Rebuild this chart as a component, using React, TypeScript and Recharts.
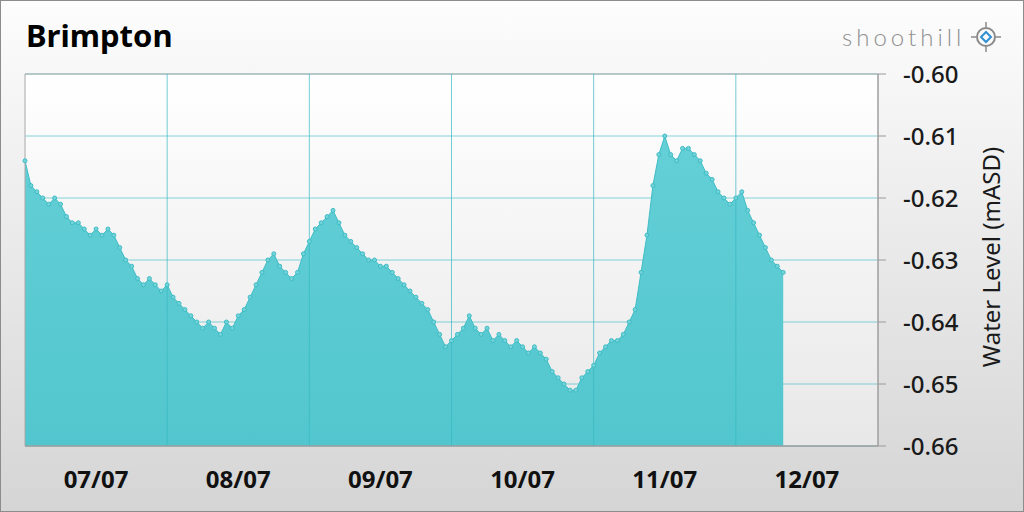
import React from 'react';
import {
  ComposedChart,
  Area,
  XAxis,
  YAxis,
  CartesianGrid,
  ReferenceArea,
  ReferenceLine,
  Label,
} from 'recharts';

// hourly water level readings from 07/07 00:00 (mASD)
const levels: number[] = [
  -0.614, -0.618, -0.619, -0.62, -0.621, -0.62, -0.621, -0.623, -0.624, -0.624,
  -0.625, -0.626, -0.625, -0.626, -0.625, -0.626, -0.628, -0.63, -0.631, -0.633,
  -0.634, -0.633, -0.634, -0.635, -0.634, -0.636, -0.637, -0.638, -0.639, -0.64,
  -0.641, -0.64, -0.641, -0.642, -0.64, -0.641, -0.639, -0.638, -0.636, -0.634,
  -0.632, -0.63, -0.629, -0.631, -0.632, -0.633, -0.632, -0.629, -0.627, -0.625,
  -0.624, -0.623, -0.622, -0.624, -0.626, -0.627, -0.628, -0.629, -0.63, -0.63,
  -0.631, -0.631, -0.632, -0.633, -0.634, -0.635, -0.636, -0.637, -0.638, -0.64,
  -0.642, -0.644, -0.643, -0.642, -0.641, -0.639, -0.641, -0.642, -0.641, -0.643,
  -0.642, -0.643, -0.644, -0.643, -0.644, -0.645, -0.644, -0.645, -0.646, -0.648,
  -0.649, -0.65, -0.651, -0.651, -0.649, -0.648, -0.647, -0.645, -0.644, -0.643,
  -0.643, -0.642, -0.64, -0.638, -0.632, -0.626, -0.618, -0.613, -0.61, -0.613,
  -0.614, -0.612, -0.612, -0.613, -0.614, -0.616, -0.617, -0.619, -0.62, -0.621,
  -0.62, -0.619, -0.622, -0.624, -0.626, -0.628, -0.63, -0.631, -0.632,
];

const dayTicks = [0, 24, 48, 72, 96, 120, 144];
const labelTicks = [12, 36, 60, 84, 108, 132];
const dayLabels = ['07/07', '08/07', '09/07', '10/07', '11/07', '12/07'];
const levelTicks = [-0.66, -0.65, -0.64, -0.63, -0.62, -0.61, -0.6];

const data = levels.map((v, i) => ({ t: i, level: v }));

const font = '"Noto Sans", "Open Sans", sans-serif';
const gridColor = '#36b8c2';

function Logo() {
  return (
    <svg width={200} height={50} style={{ position: 'absolute', left: 824, top: 12 }}>
      <text x={18} y={34} fontFamily="Lato, sans-serif" fontWeight={300} fontSize={24}
        fill="#8f8f8f" letterSpacing={4}>shoothill</text>
      <g transform="translate(162,25)">
        <circle r={9} fill="none" stroke="#8a8a8a" strokeWidth={2} />
        <line x1={0} y1={-15} x2={0} y2={-10} stroke="#8a8a8a" strokeWidth={1.5} />
        <line x1={0} y1={10} x2={0} y2={15} stroke="#8a8a8a" strokeWidth={1.5} />
        <line x1={-15} y1={0} x2={-10} y2={0} stroke="#8a8a8a" strokeWidth={1.5} />
        <line x1={10} y1={0} x2={15} y2={0} stroke="#8a8a8a" strokeWidth={1.5} />
        <path d="M0,-5 L5,0 L0,5 L-5,0 Z" fill="none" stroke="#2f8fd4" strokeWidth={2} />
      </g>
    </svg>
  );
}

export default function App() {
  return (
    <div
      style={{
        position: 'fixed',
        left: 0,
        top: 0,
        width: 1024,
        height: 512,
        background: 'linear-gradient(#fdfdfd, #d5d5d5)',
        fontFamily: font,
        overflow: 'hidden',
      }}
    >
      <div style={{ position: 'absolute', left: 26, top: 14, fontSize: 31, fontWeight: 700, color: '#000' }}>
        Brimpton
      </div>
      <Logo />
      <ComposedChart
        width={1024}
        height={512}
        data={data}
        margin={{ top: 74, right: 46, bottom: 26, left: 25 }}
        style={{ position: 'absolute', left: 0, top: 0 }}
      >
        <defs>
          <linearGradient id="plotBg" x1="0" y1="0" x2="0" y2="1">
            <stop offset="0%" stopColor="#ffffff" />
            <stop offset="100%" stopColor="#e8e8e8" />
          </linearGradient>
          <linearGradient id="areaFill" x1="0" y1="0" x2="0" y2="1">
            <stop offset="0%" stopColor="#64cfd6" />
            <stop offset="100%" stopColor="#52c6ce" />
          </linearGradient>
        </defs>
        <CartesianGrid horizontal={false} vertical={false} fill="url(#plotBg)" />
        <XAxis
          xAxisId="days"
          dataKey="t"
          type="number"
          domain={[0, 144]}
          ticks={dayTicks}
          tick={false}
          tickSize={10}
          height={10}
          axisLine={{ stroke: '#9a9a9a' }}
          tickLine={{ stroke: '#9a9a9a' }}
        />
        <XAxis
          xAxisId="labels"
          dataKey="t"
          type="number"
          domain={[0, 144]}
          ticks={labelTicks}
          tickFormatter={(v: number) => dayLabels[labelTicks.indexOf(v)]}
          tickSize={0}
          tickMargin={15}
          height={30}
          axisLine={false}
          tickLine={false}
          tick={{ fill: '#111', fontSize: 24, fontWeight: 700, fontFamily: font }}
        />
        <YAxis
          orientation="right"
          type="number"
          domain={[-0.66, -0.6]}
          ticks={levelTicks}
          tickFormatter={(v: number) => v.toFixed(2)}
          width={100}
          tickSize={8}
          tickMargin={17}
          axisLine={{ stroke: '#9a9a9a' }}
          tickLine={{ stroke: '#9a9a9a' }}
          tick={{ fill: '#1a1a1a', fontSize: 24, fontWeight: 500, fontFamily: font, textAnchor: 'start' }}
          allowDataOverflow
        >
          <Label
            content={(props: any) => {
              const vb = props.viewBox || {};
              const cx = (vb.x ?? 878) + (vb.width ?? 100) + 12;
              const cy = (vb.y ?? 74) + (vb.height ?? 372) / 2 - 3;
              return (
                <text
                  x={cx}
                  y={cy}
                  transform={`rotate(-90 ${cx} ${cy})`}
                  textAnchor="middle"
                  dominantBaseline="central"
                  fontSize={24}
                  fontFamily={font}
                  fill="#1a1a1a"
                >
                  Water Level (mASD)
                </text>
              );
            }}
          />
        </YAxis>
        <Area
          xAxisId="days"
          type="linear"
          dataKey="level"
          baseValue="dataMin"
          stroke="#3fbcc5"
          strokeWidth={1}
          fill="url(#areaFill)"
          fillOpacity={1}
          dot={{ r: 2, fill: '#74d4da', stroke: '#3fbcc5', strokeWidth: 1 }}
          activeDot={false}
          isAnimationActive={false}
        />
        <CartesianGrid
          stroke={gridColor}
          strokeOpacity={0.6}
          vertical={false}
          fill="none"
        />
        {dayTicks.slice(1, -1).map((d) => (
          <ReferenceLine
            key={d}
            xAxisId="days"
            x={d}
            stroke={gridColor}
            strokeOpacity={0.7}
          />
        ))}
        <ReferenceArea
          xAxisId="days"
          x1={0}
          x2={144}
          y1={-0.66}
          y2={-0.6}
          fill="none"
          stroke="#a8a8a8"
          strokeWidth={1}
        />
      </ComposedChart>
      <div
        style={{
          position: 'absolute',
          left: 0,
          top: 0,
          width: 1024,
          height: 512,
          boxSizing: 'border-box',
          border: '1px solid #8c8c8c',
          pointerEvents: 'none',
        }}
      />
    </div>
  );
}
